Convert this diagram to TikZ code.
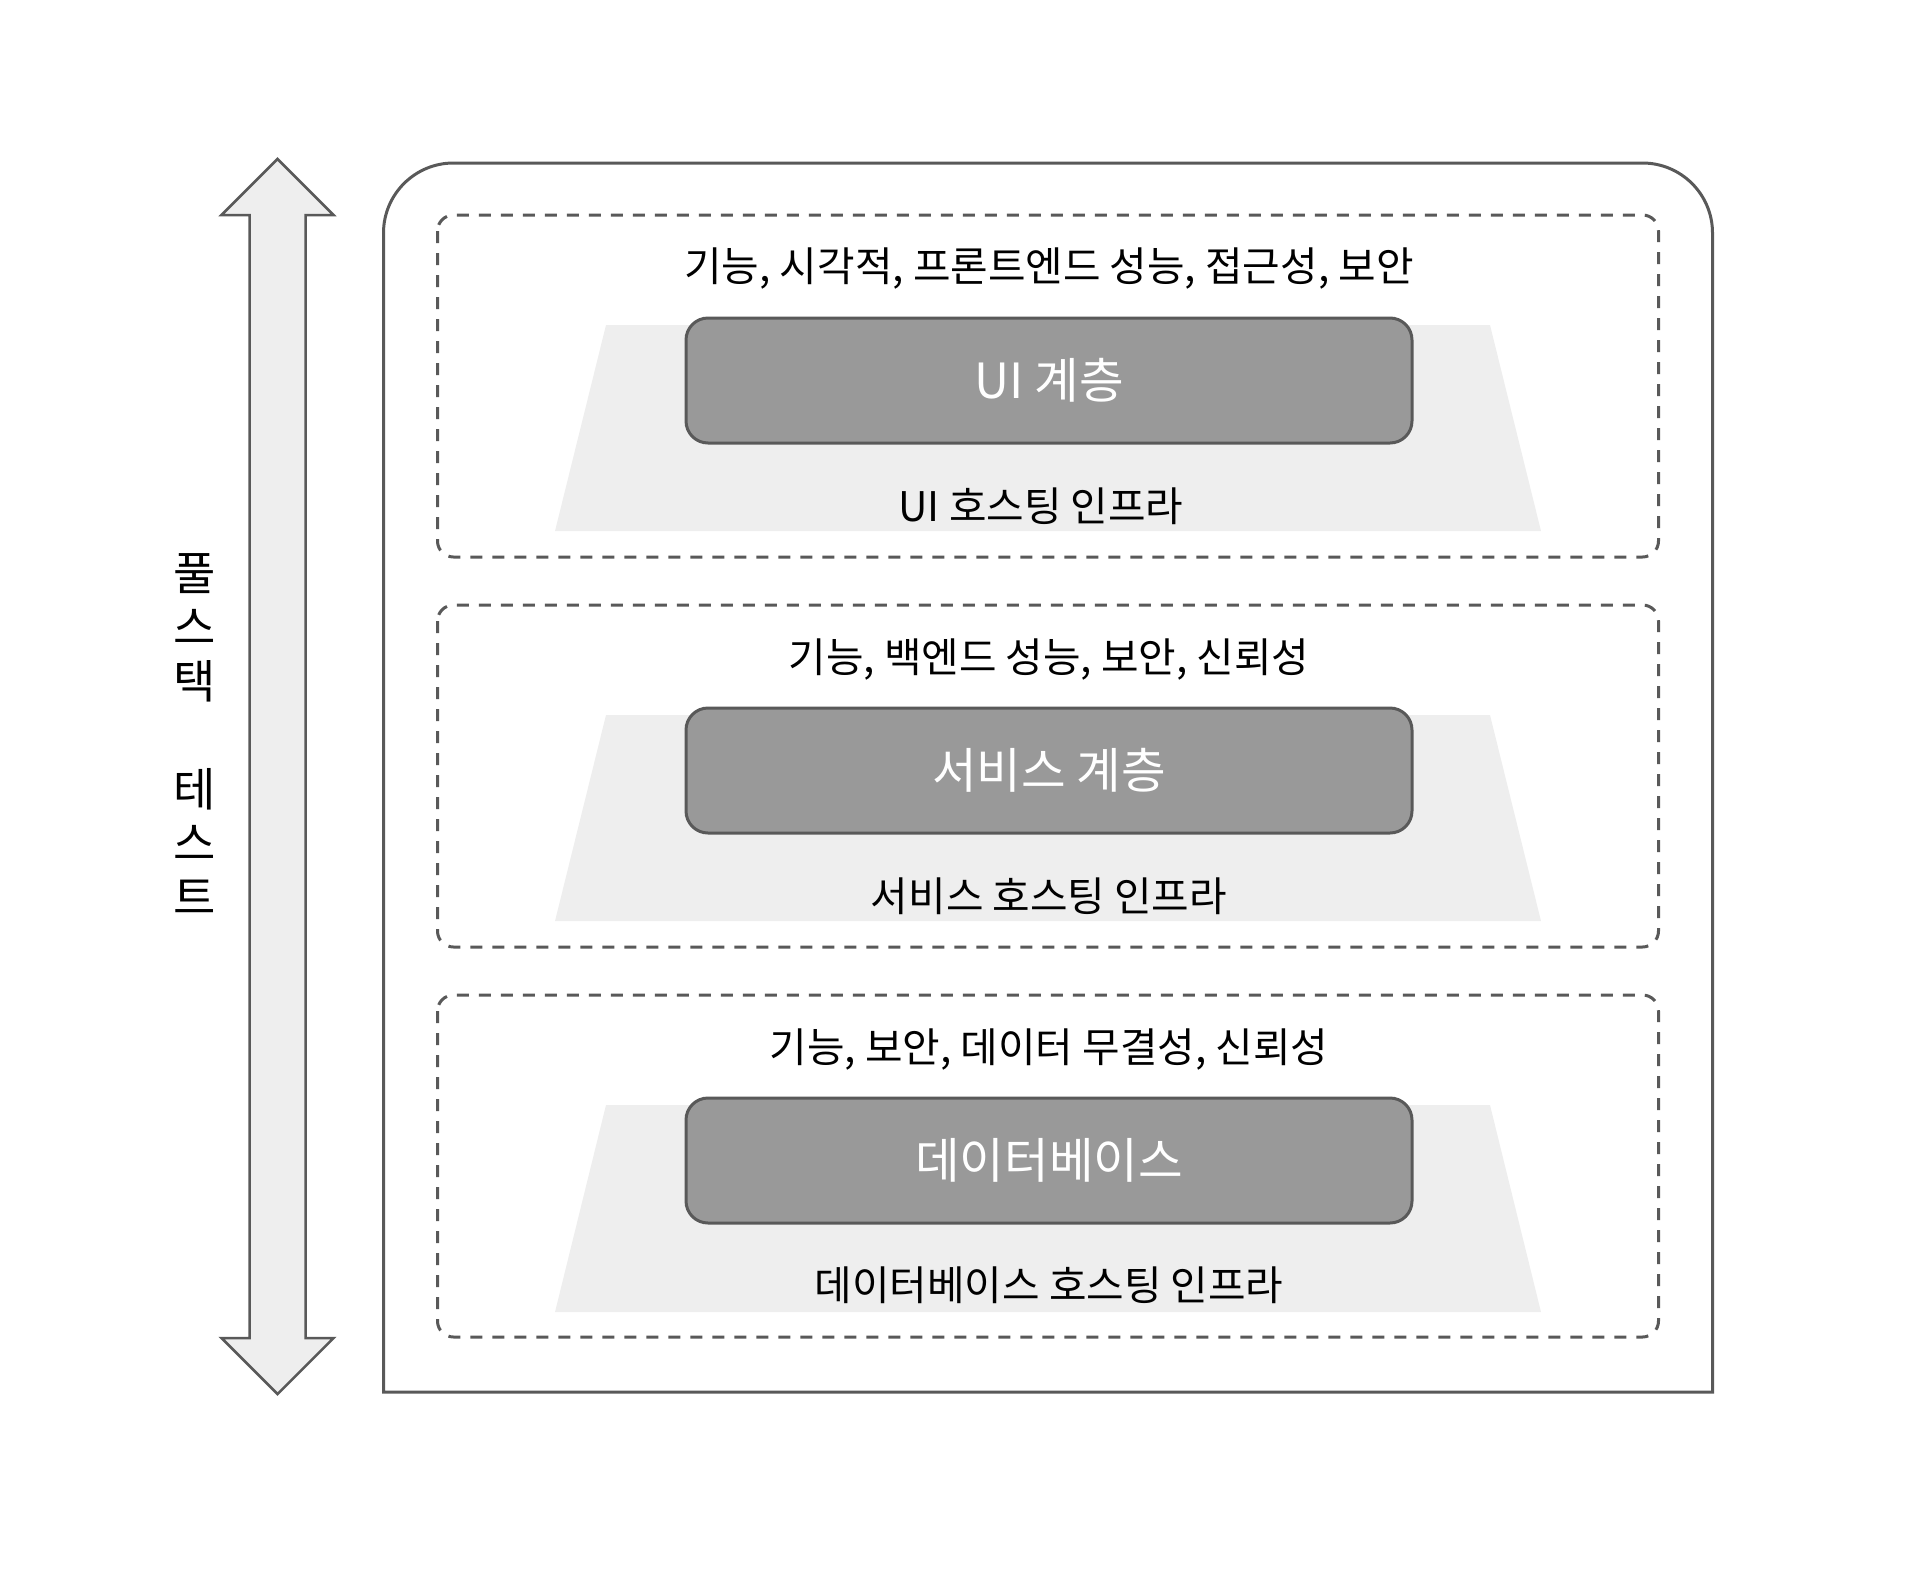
\documentclass[tikz,border=0pt]{standalone}
\usepackage{fontspec}
\newfontfamily\kr{Noto Sans CJK KR}
\definecolor{lineg}{HTML}{595959}
\definecolor{lightg}{HTML}{EEEEEE}
\definecolor{boxg}{HTML}{999999}
\begin{document}
\begin{tikzpicture}[x=1pt,y=-1pt,
  outerline/.style={draw=lineg,line width=3pt},
  dashbox/.style={draw=lineg,line width=3pt,dash pattern=on 12pt off 10pt,rounded corners=16pt},
  trap/.style={fill=lightg,draw=none},
  layer/.style={rectangle,draw=lineg,line width=3pt,fill=boxg,rounded corners=22pt,
    minimum width=726pt,minimum height=125pt,inner sep=0pt,
    text=white,font=\kr\fontsize{48.5}{58}\selectfont},
  caption/.style={inner sep=0pt,text=black,font=\kr\fontsize{40.8}{49}\selectfont},
  vlabel/.style={inner sep=0pt,align=center,text=black,font=\kr\fontsize{46}{54}\selectfont}
]
\useasboundingbox (0,0) rectangle (1928,1577);

% double arrow
\draw[fill=lightg,draw=lineg,line width=2.5pt,line join=miter]
  (277.5,159) -- (333.5,215) -- (305.5,215) -- (305.5,1338) -- (333.5,1338)
  -- (277.5,1394) -- (221.5,1338) -- (249.5,1338) -- (249.5,215) -- (221.5,215) -- cycle;

\node[vlabel] (vl) at (195,734) {풀\\스\\택\\[54pt]테\\스\\트};

% outer container
\draw[outerline] (383.5,1392) -- (383.5,233) arc[start angle=180,end angle=270,radius=70]
  -- (1642.5,163) arc[start angle=-90,end angle=0,radius=70] -- (1712.5,1392) -- cycle;

% dashed groups
\draw[dashbox] (437.5,215) rectangle (1658.5,557);
\draw[dashbox] (437.5,605) rectangle (1658.5,947);
\draw[dashbox] (437.5,995) rectangle (1658.5,1337);

% trapezoids
\fill[trap] (606,325) -- (1490,325) -- (1541,531) -- (555,531) -- cycle;
\fill[trap] (606,715) -- (1490,715) -- (1541,921) -- (555,921) -- cycle;
\fill[trap] (606,1105) -- (1490,1105) -- (1541,1312) -- (555,1312) -- cycle;

% titles
\node[caption] (t1) at (1049,268) {기능, 시각적, 프론트엔드 성능, 접근성, 보안};
\node[caption] (t2) at (1049,659) {기능, 백엔드 성능, 보안, 신뢰성};
\node[caption] (t3) at (1049,1049) {기능, 보안, 데이터 무결성, 신뢰성};

% layers
\node[layer] (ui) at (1049,380.5) {UI 계층};
\node[layer] (svc) at (1049,770.5) {서비스 계층};
\node[layer] (db) at (1049,1160.5) {데이터베이스};

% infra captions
\node[caption] (i1) at (1041,506) {UI 호스팅 인프라};
\node[caption] (i2) at (1049,896) {서비스 호스팅 인프라};
\node[caption] (i3) at (1049,1285) {데이터베이스 호스팅 인프라};
\end{tikzpicture}
\end{document}
